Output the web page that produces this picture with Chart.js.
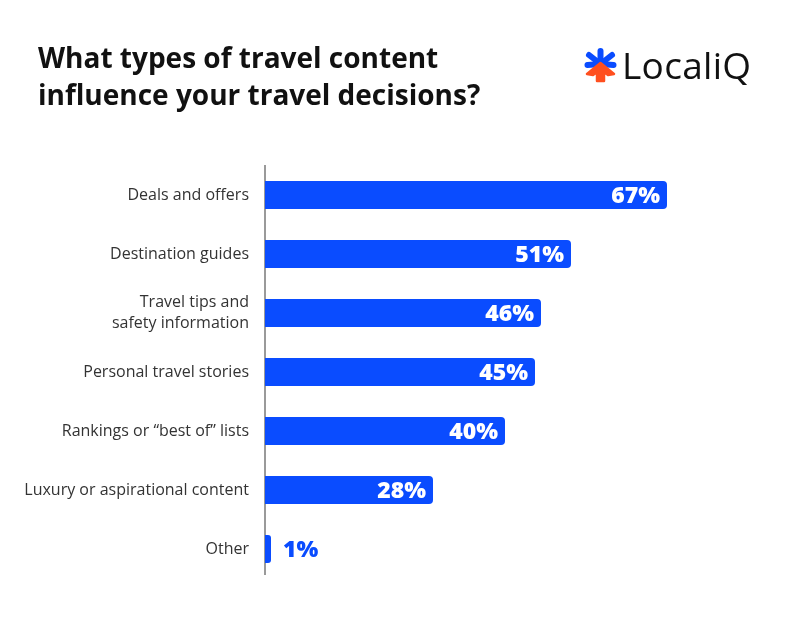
<!DOCTYPE html>
<html>
<head>
<meta charset="utf-8">
<script src="https://cdn.jsdelivr.net/npm/chart.js@4/dist/chart.umd.min.js"></script>
<style>
  html, body { margin: 0; padding: 0; background: #fff; }
  #wrap { position: relative; width: 792px; height: 617px; overflow: hidden; }
  #chart { position: absolute; left: 0; top: 0; }
  #title { position: absolute; left: 38px; top: 39px; font-family: "Open Sans", sans-serif; font-weight: 700; font-size: 28px; line-height: 37px; color: #111; letter-spacing: 0px; }
  #logo { position: absolute; left: 584px; top: 39px; display: flex; align-items: center; }
  #logo span { font-family: "Open Sans", sans-serif; font-weight: 500; font-size: 37px; color: #111; margin-left: 5px; letter-spacing: 0.3px; }
</style>
</head>
<body>
<div id="wrap">
  <canvas id="chart" width="792" height="617"></canvas>
  <div id="title">What types of travel content<br>influence your travel decisions?</div>
  <div id="logo">
    <svg width="33" height="36" viewBox="0 0 33 36">
      <g stroke="#0a4cff" stroke-width="6" stroke-linecap="round">
        <line x1="16.5" y1="17" x2="16.5" y2="4"/>
        <line x1="16.5" y1="17" x2="5" y2="8"/>
        <line x1="16.5" y1="17" x2="28" y2="8"/>
        <line x1="16.5" y1="17" x2="3.5" y2="18"/>
        <line x1="16.5" y1="17" x2="29.5" y2="18"/>
      </g>
      <g fill="#ff4f1f" stroke="#ff4f1f" stroke-width="2.5" stroke-linejoin="round">
        <polygon points="16.5,16 30,27 24,28 20,25 20,34 13,34 13,25 9,28 3,27"/>
      </g>
    </svg>
    <span>LocaliQ</span>
  </div>
</div>
<script>
const categories = [
  "Deals and offers",
  "Destination guides",
  ["Travel tips and", "safety information"],
  "Personal travel stories",
  "Rankings or \u201cbest of\u201d lists",
  "Luxury or aspirational content",
  "Other"
];
const values = [67, 51, 46, 45, 40, 28, 1];
const valueLabels = ["67%", "51%", "46%", "45%", "40%", "28%", "1%"];

const BLUE = "#0a4cff";

const valueLabelPlugin = {
  id: "valueLabels",
  afterDatasetsDraw(chart) {
    const ctx = chart.ctx;
    const meta = chart.getDatasetMeta(0);
    ctx.save();
    ctx.font = "800 23px 'Open Sans', sans-serif";
    ctx.textBaseline = "middle";
    meta.data.forEach((bar, i) => {
      const txt = valueLabels[i];
      const w = ctx.measureText(txt).width;
      const barW = bar.x - bar.base;
      if (barW > w + 20) {
        ctx.fillStyle = "#fff";
        ctx.textAlign = "right";
        ctx.fillText(txt, bar.x - 7, bar.y + 1);
      } else {
        ctx.fillStyle = BLUE;
        ctx.textAlign = "left";
        ctx.fillText(txt, bar.x + 12, bar.y + 1);
      }
    });
    ctx.restore();
  }
};

const axisLinePlugin = {
  id: "axisLine",
  beforeDatasetsDraw(chart) {
    const ctx = chart.ctx;
    const y = chart.scales.y;
    const last = y.getPixelForValue(categories.length - 1);
    ctx.save();
    ctx.strokeStyle = "#9a9a9a";
    ctx.lineWidth = 2;
    ctx.beginPath();
    ctx.moveTo(chart.chartArea.left, chart.chartArea.top - 0.5);
    ctx.lineTo(chart.chartArea.left, last + 26);
    ctx.stroke();
    ctx.restore();
  }
};

new Chart(document.getElementById("chart"), {
  type: "bar",
  data: {
    labels: categories,
    datasets: [{
      data: values,
      backgroundColor: BLUE,
      borderRadius: { topLeft: 0, bottomLeft: 0, topRight: 4, bottomRight: 4 },
      borderSkipped: false,
      barPercentage: 0.95,
      categoryPercentage: 0.5
    }]
  },
  options: {
    indexAxis: "y",
    responsive: false,
    animation: false,
    events: [],
    layout: { padding: { left: 0, right: 17, top: 165.5, bottom: 38.5 } },
    plugins: { legend: { display: false }, tooltip: { enabled: false } },
    scales: {
      x: { display: false, min: 0, max: 85 },
      y: {
        afterFit(scale) { scale.width = 265; },
        grid: { display: false, drawTicks: false },
        border: { display: false },
        ticks: {
          color: "#333",
          padding: 16,
          font: { family: "'Open Sans', sans-serif", size: 16, lineHeight: 1.3 }
        }
      }
    }
  },
  plugins: [axisLinePlugin, valueLabelPlugin]
});
</script>
</body>
</html>
